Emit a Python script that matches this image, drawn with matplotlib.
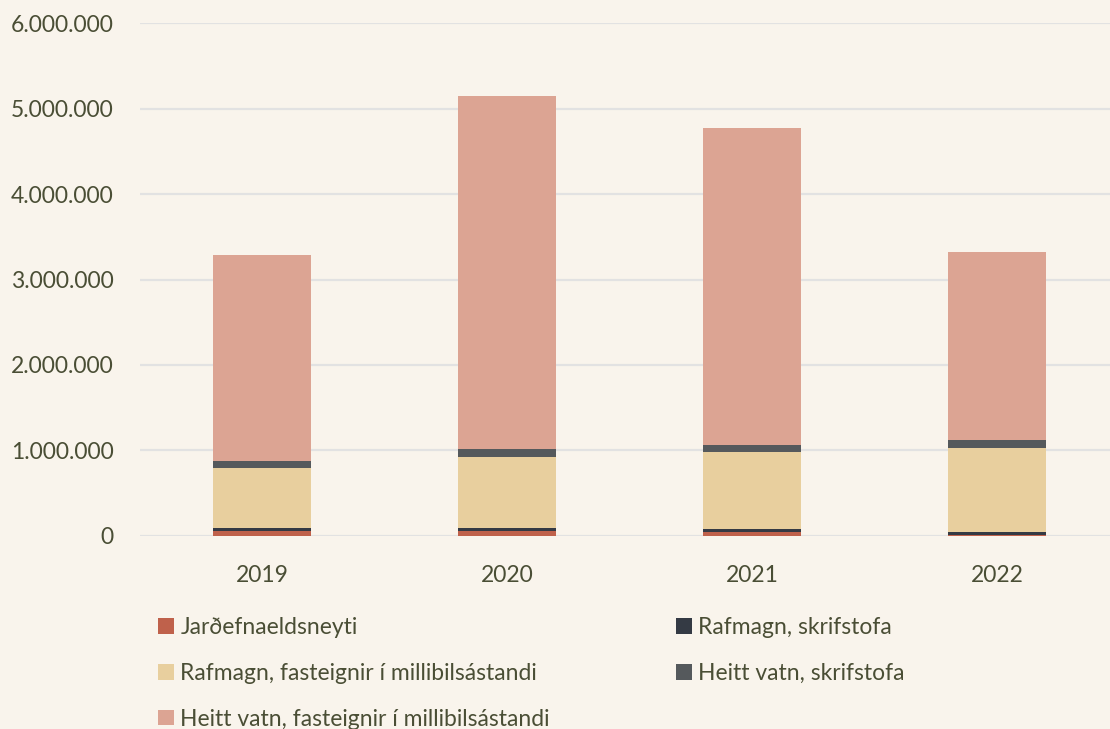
import matplotlib

matplotlib.use("Agg")

import matplotlib.pyplot as plt
from matplotlib.patches import Patch
import numpy as np

YEARS = ["2019", "2020", "2021", "2022"]
SERIES = [
    "Jarðefnaeldsneyti",
    "Rafmagn, skrifstofa",
    "Rafmagn, fasteignir í millibilsástandi",
    "Heitt vatn, skrifstofa",
    "Heitt vatn, fasteignir í millibilsástandi",
]
JARDEFNA = [55000, 55000, 45000, 12000]
RAFMAGN_SKRIF = [35000, 35000, 32000, 28000]
RAFMAGN_FAST = [709000, 834000, 904000, 986000]
HEITT_SKRIF = [78000, 90000, 82000, 90000]
HEITT_FAST = [2410000, 4130000, 3710000, 2210000]

COLORS = ["#BF614B", "#343A44", "#E8CF9E", "#55595C", "#DCA493"]
BG = "#F9F4EC"
TEXT = "#4A4E35"
GRID = "#E2E2E2"
FS = 16.5

plt.rcParams["font.family"] = ["Lato", "DejaVu Sans"]

fig = plt.figure(figsize=(11.1, 7.29), dpi=100, facecolor=BG)
ax = fig.add_axes([0.126, 0.265, 0.874, 0.703], facecolor=BG)

x = np.arange(len(YEARS))
values = [JARDEFNA, RAFMAGN_SKRIF, RAFMAGN_FAST, HEITT_SKRIF, HEITT_FAST]
bottom = np.zeros(len(YEARS))
handles = []
for name, vals, color in zip(SERIES, values, COLORS):
    ax.bar(x, vals, width=0.4, bottom=bottom, color=color, zorder=3)
    bottom += np.asarray(vals, dtype=float)
    handles.append(Patch(facecolor=color, label=name))

ax.set_xlim(-0.5, 3.46)
ax.set_ylim(0, 6000000)
ax.set_xticks(x, YEARS)
ax.set_yticks(np.arange(0, 6000001, 1000000))
ax.yaxis.set_major_formatter(
    matplotlib.ticker.FuncFormatter(lambda v, _: f"{int(v):,}".replace(",", "."))
)
ax.grid(True, axis="y", color=GRID, linewidth=1.6, zorder=0)
ax.tick_params(axis="both", length=0, labelsize=FS, colors=TEXT)
ax.tick_params(axis="y", pad=19)
ax.tick_params(axis="x", pad=21)
for spine in ax.spines.values():
    spine.set_visible(False)

leg_kw = dict(
    frameon=False,
    fontsize=FS,
    labelcolor=TEXT,
    handlelength=0.68,
    handleheight=0.68,
    handletextpad=0.3,
    labelspacing=1.08,
    borderaxespad=0.0,
    borderpad=0.0,
)
fig.legend(
    [handles[0], handles[2], handles[4]],
    [SERIES[0], SERIES[2], SERIES[4]],
    loc="upper left",
    bbox_to_anchor=(158 / 1110, 1 - 617 / 729),
    **leg_kw,
)
fig.legend(
    [handles[1], handles[3]],
    [SERIES[1], SERIES[3]],
    loc="upper left",
    bbox_to_anchor=(676 / 1110, 1 - 617 / 729),
    **leg_kw,
)

fig.savefig("out.png", dpi=100, facecolor=BG)
